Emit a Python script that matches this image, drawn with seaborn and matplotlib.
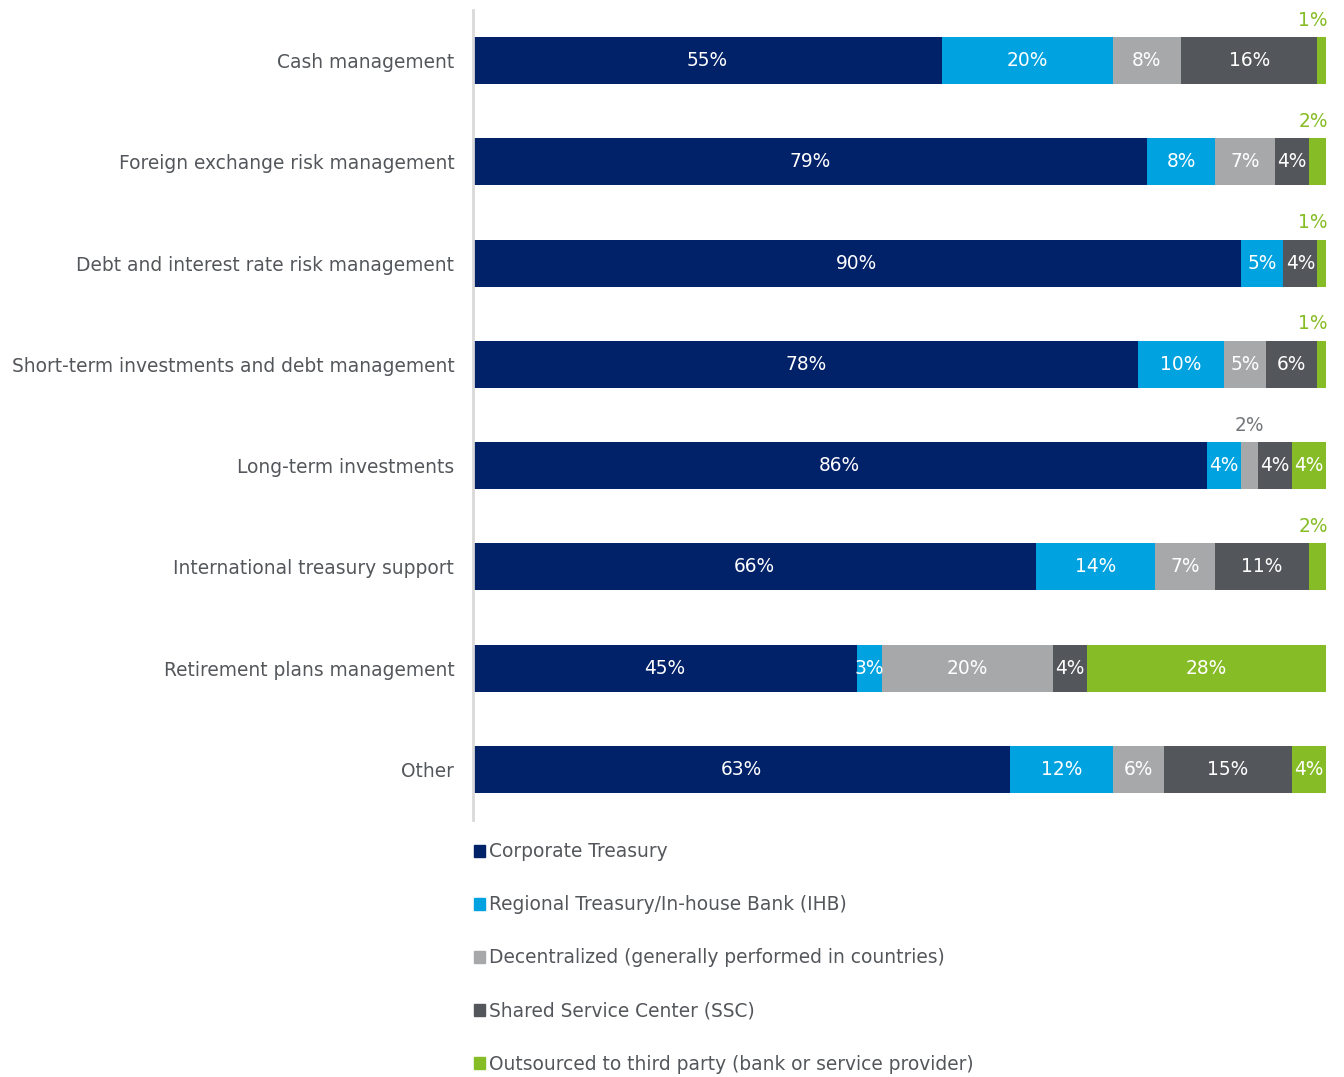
import matplotlib
matplotlib.use("Agg")
import matplotlib.pyplot as plt
import matplotlib.patches as mpatches
import seaborn as sns
import pandas as pd
import numpy as np

categories = [
    "Cash management",
    "Foreign exchange risk management",
    "Debt and interest rate risk management",
    "Short-term investments and debt management",
    "Long-term investments",
    "International treasury support",
    "Retirement plans management",
    "Other",
]
series_names = [
    "Corporate Treasury",
    "Regional Treasury/In-house Bank (IHB)",
    "Decentralized (generally performed in countries)",
    "Shared Service Center (SSC)",
    "Outsourced to third party (bank or service provider)",
]
corporate = [55, 79, 90, 78, 86, 66, 45, 63]
regional = [20, 8, 5, 10, 4, 14, 3, 12]
decentral = [8, 7, 0, 5, 2, 7, 20, 6]
ssc = [16, 4, 4, 6, 4, 11, 4, 15]
outsourced = [1, 2, 1, 1, 4, 2, 28, 4]

colors = ["#012169", "#00A3E0", "#A7A8AA", "#53565A", "#86BC25"]
above_colors = ["#012169", "#00A3E0", "#75787B", "#53565A", "#86BC25"]

sns.set_theme(style="white")
plt.rcParams["font.family"] = ["DejaVu Sans"]
FS = 13.4
TXT = "#53565A"

vals = np.array([corporate, regional, decentral, ssc, outsourced], dtype=float)
cum = np.cumsum(vals, axis=0)

fig = plt.figure(figsize=(13.44, 10.77), dpi=100)
ax = fig.add_axes([473 / 1344, 1 - 820 / 1077, (1326 - 473) / 1344, (820 - 10) / 1077])

# stacked bars: draw cumulative totals from largest to smallest
for k in range(len(series_names) - 1, -1, -1):
    df = pd.DataFrame({"category": categories, "value": cum[k]})
    sns.barplot(data=df, x="value", y="category", order=categories, orient="h",
                color=colors[k], saturation=1, width=0.465, linewidth=0, ax=ax)

ax.set_xlim(0, 100)
ax.set_ylim(7.5, -0.5)
ax.set_xlabel("")
ax.set_ylabel("")
ax.set_xticks([])
for s in ["top", "right", "bottom"]:
    ax.spines[s].set_visible(False)
ax.spines["left"].set_color("#D9D9D9")
ax.spines["left"].set_linewidth(2)
ax.tick_params(axis="y", length=0, pad=13.5, labelsize=FS, labelcolor=TXT)

for k in range(len(series_names)):
    for i in range(len(categories)):
        v = vals[k, i]
        if v <= 0:
            continue
        start = cum[k, i] - v
        center = start + v / 2
        label = f"{int(v)}%"
        if v <= 2:
            if k == len(series_names) - 1:
                ax.annotate(label, (100, i - 0.4), xytext=(2, 0), textcoords="offset pixels",
                            ha="right", va="center", fontsize=FS, color=above_colors[k])
            else:
                ax.text(center, i - 0.4, label, ha="center", va="center",
                        fontsize=FS, color=above_colors[k])
        else:
            ax.text(center, i, label, ha="center", va="center", fontsize=FS, color="white")

handles = [mpatches.Patch(color=c, label=n) for c, n in zip(colors, series_names)]
fig.legend(handles=handles, loc="upper left", bbox_to_anchor=(465 / 1344, 1 - 833 / 1077),
           frameon=False, fontsize=FS, handlelength=0.6, handleheight=0.6,
           handletextpad=0.2, labelspacing=1.83, labelcolor=TXT, borderpad=0)

fig.savefig("out.png", dpi=100)
